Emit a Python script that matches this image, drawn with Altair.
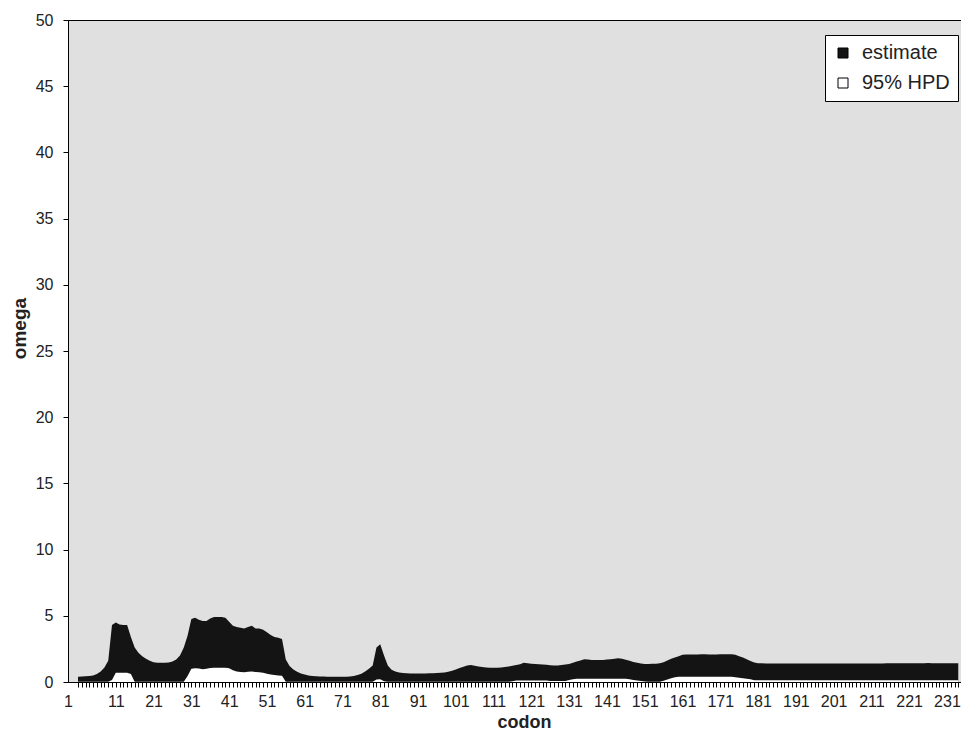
import altair as alt
import pandas as pd

codons = list(range(1, 235))

upper = [
    0.40, 0.42, 0.43, 0.45, 0.50, 0.60, 0.80, 1.10, 1.60, 4.30,
    4.50, 4.35, 4.30, 4.30, 3.40, 2.60, 2.20, 1.95, 1.75, 1.60,
    1.50, 1.45, 1.45, 1.45, 1.48, 1.55, 1.70, 2.00, 2.60, 3.50,
    4.75, 4.85, 4.70, 4.60, 4.60, 4.80, 4.90, 4.90, 4.90, 4.85,
    4.55, 4.25, 4.15, 4.10, 4.05, 4.15, 4.25, 4.05, 4.05, 3.95,
    3.75, 3.55, 3.40, 3.35, 3.25, 1.70, 1.20, 0.95, 0.78, 0.65,
    0.56, 0.50, 0.46, 0.44, 0.42, 0.41, 0.40, 0.40, 0.40, 0.40,
    0.40, 0.40, 0.42, 0.45, 0.52, 0.62, 0.80, 1.00, 1.25, 2.60,
    2.85, 2.00, 1.25, 0.92, 0.80, 0.72, 0.68, 0.66, 0.65, 0.65,
    0.65, 0.65, 0.65, 0.66, 0.67, 0.68, 0.70, 0.72, 0.78, 0.85,
    0.95, 1.05, 1.15, 1.25, 1.28, 1.22, 1.17, 1.13, 1.10, 1.08,
    1.07, 1.08, 1.10, 1.13, 1.17, 1.22, 1.28, 1.35, 1.45, 1.42,
    1.38, 1.36, 1.34, 1.32, 1.30, 1.27, 1.25, 1.25, 1.28, 1.32,
    1.36, 1.45, 1.55, 1.62, 1.72, 1.70, 1.67, 1.66, 1.66, 1.67,
    1.70, 1.72, 1.76, 1.79, 1.75, 1.68, 1.60, 1.52, 1.46, 1.40,
    1.36, 1.36, 1.37, 1.38, 1.42, 1.50, 1.62, 1.75, 1.85, 1.95,
    2.05, 2.08, 2.08, 2.08, 2.08, 2.09, 2.09, 2.08, 2.07, 2.08,
    2.09, 2.10, 2.10, 2.10, 2.05, 1.95, 1.85, 1.72, 1.58, 1.48,
    1.42, 1.41, 1.40, 1.40, 1.40, 1.40, 1.40, 1.40, 1.40, 1.40,
    1.40, 1.40, 1.40, 1.40, 1.40, 1.40, 1.40, 1.40, 1.40, 1.40,
    1.40, 1.40, 1.40, 1.40, 1.40, 1.40, 1.40, 1.40, 1.40, 1.40,
    1.40, 1.40, 1.40, 1.40, 1.41, 1.41, 1.42, 1.42, 1.42, 1.42,
    1.42, 1.42, 1.42, 1.42, 1.42, 1.43, 1.42, 1.42, 1.41, 1.41,
    1.41, 1.41, 1.41, 1.41,
]

lower = [
    0.02, 0.02, 0.02, 0.02, 0.02, 0.02, 0.02, 0.02, 0.02, 0.15,
    0.70, 0.70, 0.70, 0.70, 0.60, 0.02, 0.02, 0.02, 0.02, 0.02,
    0.02, 0.02, 0.02, 0.02, 0.02, 0.02, 0.02, 0.02, 0.02, 0.45,
    1.00, 1.03, 1.02, 0.97, 1.00, 1.05, 1.07, 1.07, 1.07, 1.07,
    1.03, 0.88, 0.80, 0.76, 0.73, 0.77, 0.80, 0.75, 0.73, 0.70,
    0.62, 0.56, 0.52, 0.50, 0.47, 0.02, 0.02, 0.02, 0.02, 0.02,
    0.02, 0.02, 0.02, 0.02, 0.02, 0.02, 0.02, 0.02, 0.02, 0.02,
    0.02, 0.02, 0.02, 0.02, 0.02, 0.02, 0.02, 0.02, 0.02, 0.18,
    0.20, 0.05, 0.02, 0.02, 0.02, 0.02, 0.02, 0.02, 0.02, 0.02,
    0.02, 0.02, 0.02, 0.02, 0.02, 0.02, 0.02, 0.02, 0.02, 0.02,
    0.02, 0.02, 0.02, 0.02, 0.02, 0.02, 0.02, 0.02, 0.02, 0.02,
    0.02, 0.02, 0.02, 0.02, 0.02, 0.06, 0.12, 0.12, 0.12, 0.12,
    0.12, 0.12, 0.12, 0.12, 0.12, 0.08, 0.08, 0.08, 0.08, 0.08,
    0.15, 0.20, 0.25, 0.25, 0.25, 0.25, 0.25, 0.25, 0.25, 0.25,
    0.25, 0.25, 0.25, 0.25, 0.25, 0.25, 0.20, 0.15, 0.12, 0.08,
    0.04, 0.02, 0.02, 0.02, 0.02, 0.10, 0.18, 0.28, 0.35, 0.40,
    0.40, 0.40, 0.40, 0.40, 0.40, 0.40, 0.40, 0.40, 0.40, 0.40,
    0.40, 0.40, 0.40, 0.40, 0.36, 0.32, 0.28, 0.24, 0.20, 0.13,
    0.13, 0.13, 0.13, 0.13, 0.13, 0.13, 0.13, 0.13, 0.13, 0.13,
    0.13, 0.13, 0.13, 0.13, 0.13, 0.13, 0.13, 0.13, 0.13, 0.13,
    0.13, 0.13, 0.13, 0.13, 0.13, 0.13, 0.13, 0.13, 0.13, 0.13,
    0.13, 0.13, 0.13, 0.13, 0.13, 0.13, 0.13, 0.13, 0.13, 0.13,
    0.13, 0.13, 0.13, 0.13, 0.13, 0.13, 0.13, 0.13, 0.13, 0.13,
    0.13, 0.13, 0.13, 0.13,
]

y_ticks = [0, 5, 10, 15, 20, 25, 30, 35, 40, 45, 50]
series_names = ["estimate", "95% HPD"]
series_colors = ["#141414", "#ffffff"]

df = pd.concat(
    [
        pd.DataFrame({"codon": codons, "value": upper, "series": series_names[0]}),
        pd.DataFrame({"codon": codons, "value": lower, "series": series_names[1]}),
    ],
    ignore_index=True,
)

FONT = "Liberation Sans"
TXT = "#222222"

x_enc = alt.X(
    "codon:Q",
    scale=alt.Scale(domain=[-1.647, 234.72], nice=False, zero=False),
    axis=alt.Axis(
        values=codons,
        format="d",
        labelExpr="(datum.value - 1) % 10 == 0 ? datum.label : ''",
        labelOverlap=False,
        labelFlush=False,
        labelOffset=alt.condition("datum.value == 1", alt.value(-10), alt.value(0)),
        tickSize=5,
        labelPadding=6,
        labelFontSize=16,
        labelFont=FONT,
        labelColor=TXT,
        title="codon",
        titleFont=FONT,
        titleFontSize=18,
        titleFontWeight="bold",
        titleColor=TXT,
        titleX=456,
        titleY=45,
        titleBaseline="alphabetic",
        grid=False,
    ),
)

y_enc = alt.Y(
    "value:Q",
    scale=alt.Scale(domain=[0, 50], nice=False),
    axis=alt.Axis(
        values=y_ticks,
        tickSize=5,
        labelPadding=10,
        labelFontSize=16,
        labelFont=FONT,
        labelColor=TXT,
        title="omega",
        titleFont=FONT,
        titleFontSize=19,
        titleFontWeight="bold",
        titleColor=TXT,
        titleAngle=270,
        titleX=-49,
        titleY=308,
        titleBaseline="middle",
        titleAlign="center",
        grid=False,
    ),
)

color_enc = alt.Color(
    "series:N",
    scale=alt.Scale(domain=series_names, range=series_colors),
    legend=alt.Legend(
        title=None,
        orient="none",
        legendX=757,
        legendY=15,
        fillColor="white",
        strokeColor="black",
        padding=8,
        symbolType="square",
        symbolSize=100,
        symbolStrokeColor="black",
        symbolStrokeWidth=1,
        symbolOpacity=1,
        labelFont=FONT,
        labelFontSize=20,
        labelColor=TXT,
        labelOffset=9,
        rowPadding=10,
        labelExpr="datum.label + '\u00a0\u00a0\u00a0'",
    ),
)

base = alt.Chart(df)
black = base.transform_filter(alt.datum.series == series_names[0]).mark_area(
    interpolate="linear", opacity=1, clip=True
).encode(x=x_enc, y=y_enc, color=color_enc)

white = base.transform_filter(alt.datum.series == series_names[1]).mark_area(
    interpolate="linear", opacity=1, clip=True
).encode(x=x_enc, y=y_enc, color=color_enc)

chart = (
    alt.layer(black, white)
    .properties(
        width=893,
        height=662,
        autosize=alt.AutoSizeParams(type="none"),
        padding={"left": 60, "top": 12, "right": 0, "bottom": 49},
        background="white",
    )
    .configure_view(fill="#e0e0e0", stroke="black", strokeWidth=1)
    .configure_axis(domainColor="black", tickColor="black", domainWidth=1, tickWidth=1)
)

chart.save("out.html", embed_options={"renderer": "svg", "actions": False})
